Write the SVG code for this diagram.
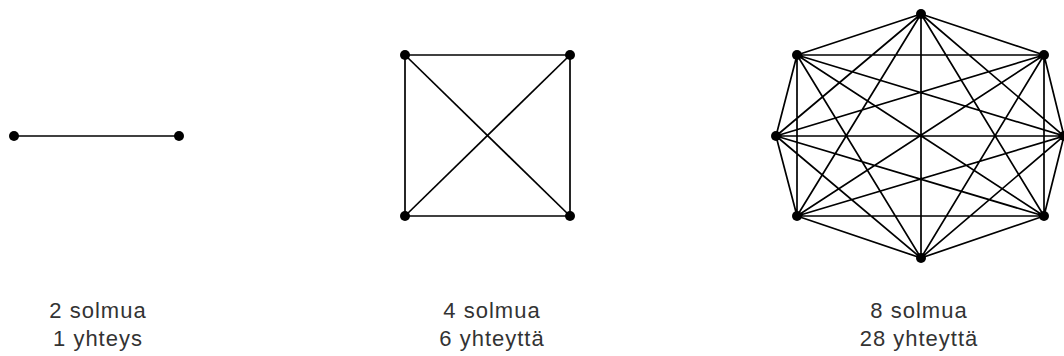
<svg xmlns="http://www.w3.org/2000/svg" width="1064" height="356" viewBox="0 0 1064 356">
<style>
.e{stroke:#000;stroke-width:1.7;fill:none}
.n{fill:#000}
.t{font-family:"Liberation Sans",Arial,sans-serif;font-size:22px;letter-spacing:1px;fill:#333;text-anchor:middle}
</style>
<rect width="1064" height="356" fill="#fff"/>
<g id="connectors">
<line class="e" x1="14" y1="136" x2="179" y2="136"/>
<line class="e" x1="405" y1="55" x2="570" y2="55"/>
<line class="e" x1="405" y1="216" x2="570" y2="216"/>
<line class="e" x1="405" y1="55" x2="405" y2="216"/>
<line class="e" x1="570" y1="55" x2="570" y2="216"/>
<line class="e" x1="405" y1="55" x2="570" y2="216"/>
<line class="e" x1="570" y1="55" x2="405" y2="216"/>
<path class="e" d="M921 14L797 55M921 14L1044 55M921 14L776 136M921 14L1064 136M921 14L797 216M921 14L1044 216M921 14L921 258
M797 55L1044 55M797 55L776 136M797 55L1064 136M797 55L797 216M797 55L1044 216M797 55L921 258
M1044 55L776 136M1044 55L1064 136M1044 55L797 216M1044 55L1044 216M1044 55L921 258
M776 136L1064 136M776 136L797 216M776 136L1044 216M776 136L921 258
M1064 136L797 216M1064 136L1044 216M1064 136L921 258
M797 216L1044 216M797 216L921 258
M1044 216L921 258"/>
</g>
<g id="g1-a"><circle class="n" cx="14" cy="136" r="5"/></g>
<g id="g1-b"><circle class="n" cx="179" cy="136" r="5"/></g>
<g id="g2-tl"><circle class="n" cx="405" cy="55" r="5"/></g>
<g id="g2-tr"><circle class="n" cx="570" cy="55" r="5"/></g>
<g id="g2-bl"><circle class="n" cx="405" cy="216" r="5"/></g>
<g id="g2-br"><circle class="n" cx="570" cy="216" r="5"/></g>
<g id="g3-t"><circle class="n" cx="921" cy="14" r="5"/></g>
<g id="g3-ul"><circle class="n" cx="797" cy="55" r="5"/></g>
<g id="g3-ur"><circle class="n" cx="1044" cy="55" r="5"/></g>
<g id="g3-l"><circle class="n" cx="776" cy="136" r="5"/></g>
<g id="g3-r"><circle class="n" cx="1064" cy="136" r="5"/></g>
<g id="g3-ll"><circle class="n" cx="797" cy="216" r="5"/></g>
<g id="g3-lr"><circle class="n" cx="1044" cy="216" r="5"/></g>
<g id="g3-b"><circle class="n" cx="921" cy="258" r="5"/></g>
<g id="label1"><text class="t" x="98" y="318">2 solmua</text><text class="t" x="98" y="346">1 yhteys</text></g>
<g id="label2"><text class="t" x="492" y="318">4 solmua</text><text class="t" x="492" y="346">6 yhteyttä</text></g>
<g id="label3"><text class="t" x="919" y="318">8 solmua</text><text class="t" x="919" y="346">28 yhteyttä</text></g>
</svg>
